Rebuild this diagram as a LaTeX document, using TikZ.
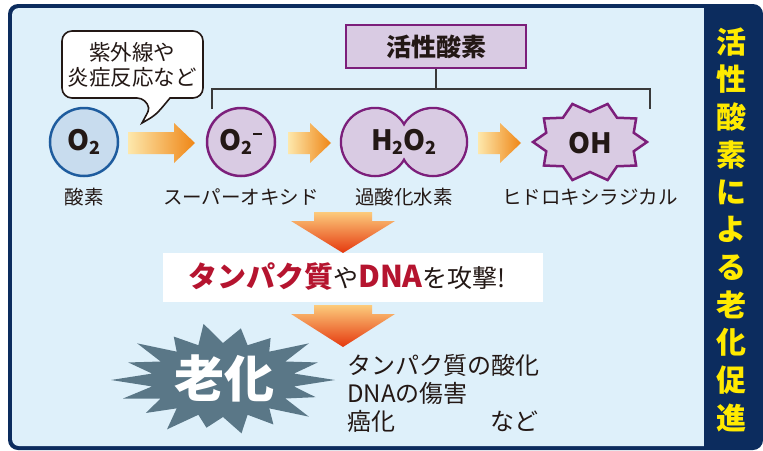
\documentclass[tikz,border=0pt]{standalone}
\usepackage{fontspec}
\setmainfont{Noto Sans CJK JP}
\definecolor{navy}{HTML}{0C2C5E}
\definecolor{bgblue}{HTML}{DEF0FA}
\definecolor{oblue}{HTML}{C8DCEE}
\definecolor{oborder}{HTML}{1E5C9E}
\definecolor{lav}{HTML}{D9CBE3}
\definecolor{purp}{HTML}{7C1F7B}
\definecolor{ink}{HTML}{231815}
\definecolor{lineg}{HTML}{3A3A3A}
\definecolor{arry}{HTML}{FDE8AC}
\definecolor{arro}{HTML}{EF8616}
\definecolor{darrtop}{HTML}{FCCB7C}
\definecolor{darrbot}{HTML}{E5380E}
\definecolor{slate}{HTML}{5A7787}
\definecolor{redtxt}{HTML}{B5142F}
\definecolor{yel}{HTML}{FFEA00}
\newcommand{\fs}[1]{\fontsize{#1}{#1}\selectfont}
\newcommand{\subtwo}{\raisebox{-4.5pt}{\fs{18}2}}
\newcommand{\rarrow}[3]{\shade[left color=arry, right color=arro] ({#1},{#3-11}) -- ({#2-21},{#3-11}) -- ({#2-21},{#3-20}) -- ({#2},{#3}) -- ({#2-21},{#3+20}) -- ({#2-21},{#3+11}) -- ({#1},{#3+11}) -- cycle;}
\newcommand{\darrow}[3]{\shade[top color=darrtop, bottom color=darrbot] ({#1-29},{#2}) -- ({#1+29},{#2}) -- ({#1+29},{#2+9}) -- ({#1+52},{#2+9}) -- ({#1},{#3}) -- ({#1-52},{#2+9}) -- ({#1-29},{#2+9}) -- cycle;}
\begin{document}
\begin{tikzpicture}[x=1pt,y=-1pt,
  every node/.style={inner sep=0pt, text=ink},
  lbl/.style={font=\fs{19.5}},
  mol/.style={font=\fs{28}\bfseries},
  body/.style={font=\fs{24}, anchor=west},
  bracket/.style={draw=lineg, line width=1.5pt}]
\useasboundingbox (0,0) rectangle (763,450);
% frame
\fill[navy, rounded corners=10pt] (8,4) rectangle (763,450);
\fill[bgblue, rounded corners=7pt] (12,8) rectangle (712,446);
\fill[navy] (704,6) rectangle (722,448);
% vertical title
\foreach \c [count=\i] in {活,性,酸,素,に,よ,る,老,化,促,進}
  \node[font=\fs{30}\bfseries, text=yel] (v\i) at (731,{23+37.6*(\i-0.5)}) {\c};
% speech bubble
\draw[fill=white, draw=ink, line width=1.6pt] (147,98) .. controls (149,110) .. (142,123) .. controls (156,115) .. (170,98) [rounded corners=10pt] -- (203,98) -- (203,31) -- (62,31) -- (62,98) -- cycle;
\node[font=\fontsize{21.5}{25}\selectfont, align=center] (bub) at (132,64.5) {紫外線や\\炎症反応など};
% ROS box and bracket
\node[draw=purp, fill=lav, line width=2.5pt, minimum width=180pt, minimum height=43pt, font=\fs{25}\bfseries] (ros) at (436,46.5) {活性酸素};
\coordinate (bm) at (436,89);
\coordinate (bl) at (212,89);
\coordinate (br) at (650,89);
\coordinate (bld) at (212,109);
\coordinate (brd) at (650,109);
\draw[bracket] (ros.south) -- (bm);
\draw[bracket] (bld) -- (bl) -- (br) -- (brd);
% O2
\node[circle, draw=oborder, fill=oblue, line width=2.5pt, minimum size=68pt, mol] (o2) at (84,142) {O\subtwo};
\node[lbl] (o2l) at (84,197) {酸素};
% superoxide
\node[circle, draw=purp, fill=lav, line width=2.5pt, minimum size=68pt, mol] (sup) at (241,142) {O\subtwo\hspace{0.5pt}\raisebox{15pt}{\rule{9pt}{2.4pt}}};
\node[lbl] (supl) at (241,197) {スーパーオキシド};
% H2O2
\fill[lav] (375,142) circle (34pt) (433,142) circle (34pt);
\draw[purp, line width=2.5pt] (375,142) circle (34pt) (433,142) circle (34pt);
\fill[lav] (375,142) circle (32.7pt) (433,142) circle (32.7pt);
\node[mol, minimum width=126pt, minimum height=68pt] (h2o2) at (404,142) {H\subtwo O\subtwo};
\node[lbl] (h2o2l) at (404,197) {過酸化水素};
% OH star
\draw[fill=lav, draw=purp, line width=2.5pt, line join=miter] (533,142)
  \foreach \k in {1,...,9} { -- ({590-46*cos(36*\k-18)},{142-30*sin(36*\k-18)}) -- ({590-57*cos(36*\k)},{142-40*sin(36*\k)}) }
  -- ({590-46*cos(342)},{142-30*sin(342)}) -- cycle;
\node[mol, minimum width=114pt, minimum height=78pt] (oh) at (590,143) {OH};
\node[lbl] (ohl) at (590,197) {ヒドロキシラジカル};
% right arrows
\rarrow{128}{195}{143}
\rarrow{288}{331}{143}
\rarrow{478}{521}{143}
% attack box
\darrow{343}{212}{253}
\node[fill=white, minimum width=380pt, minimum height=49pt] (atkbox) at (353,277.5) {};
\node[font=\fs{25}] (atk) at (347,277) {\textcolor{redtxt}{\fs{29}\bfseries タンパク質}や\textcolor{redtxt}{\fs{30}\bfseries DNA}を攻撃!};
\darrow{343}{305}{347}
% aging burst
\fill[slate] (111,380)
  \foreach \k/\f in {1/.9,2/1,3/.88,4/1,5/.92,6/.85,7/1,8/.9,9/1,10/.88,11/1,12/.9,13/.95,14/.85,15/1,16/.9,17/.95}
  { -- ({223-72*cos(20*\k-10)},{380-37*sin(20*\k-10)}) -- ({223-112*\f*cos(20*\k)},{380-57*\f*sin(20*\k)}) }
  -- ({223-72*cos(350)},{380-37*sin(350)}) -- cycle;
\node[font=\fs{50}\bfseries, text=white] (aging) at (224,378) {老化};
% effects
\node[body] (e1) at (347,365) {タンパク質の酸化};
\node[body] (e2) at (347,393) {DNAの傷害};
\node[body] (e3) at (347,421) {癌化};
\node[font=\fs{24}, anchor=east] (e4) at (539,421) {など};
\end{tikzpicture}
\end{document}
